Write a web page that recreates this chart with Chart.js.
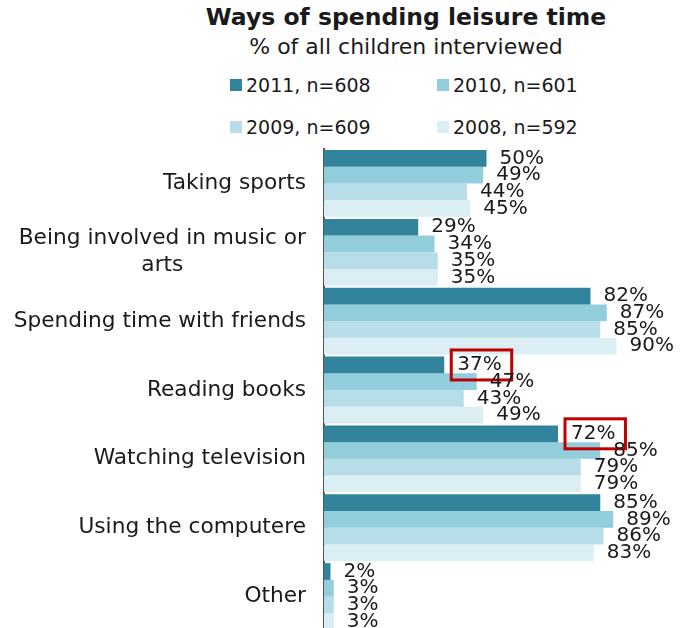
<!DOCTYPE html>
<html lang="en">
<head>
<meta charset="UTF-8">
<title>Ways of spending leisure time</title>
<script src="https://cdn.jsdelivr.net/npm/chart.js"></script>
<style>
  html, body { margin: 0; padding: 0; overflow: hidden; background: #fff; }
  body { width: 685px; height: 628px; position: relative; font-family: "DejaVu Sans", Verdana, sans-serif; color: #1a1a1a; }
  .title { position: absolute; left: 0; width: 812px; top: 3px; text-align: center; font-weight: bold; font-size: 23.5px; line-height: 28px; }
  .subtitle { position: absolute; left: 0; width: 812px; top: 33px; text-align: center; font-size: 22px; line-height: 28px; }
  .legend-item { position: absolute; font-size: 19px; line-height: 24px; white-space: nowrap; }
  .legend-item span { display: inline-block; width: 12px; height: 12px; margin-right: 4px; vertical-align: 1px; }
  .chart_area { position: absolute; left: 0; top: 0; width: 685px; height: 640px; }
</style>
</head>
<body>
<div class="title">Ways of spending leisure time</div>
<div class="subtitle">% of all children interviewed</div>
<div id="legend"></div>
<div class="chart_area">
  <canvas id="leisureChart"></canvas>
</div>

<script>
// data
const categories = [
  'Taking sports',
  ['Being involved in music or', 'arts'],
  'Spending time with friends',
  'Reading books',
  'Watching television',
  'Using the computere',
  'Other'
];
const seriesNames = ['2011, n=608', '2010, n=601', '2009, n=609', '2008, n=592'];
const values2011 = [50, 29, 82, 37, 72, 85, 2];
const values2010 = [49, 34, 87, 47, 85, 89, 3];
const values2009 = [44, 35, 85, 43, 79, 86, 3];
const values2008 = [45, 35, 90, 49, 79, 83, 3];
const highlighted2011 = [3, 4]; // labels with a red box

const colors = ['#31849B', '#92CDDC', '#B7DEE8', '#DAEEF3'];
const catFont = '21.7px "DejaVu Sans", Verdana, sans-serif';
const valueFont = '20px "DejaVu Sans", Verdana, sans-serif';

// legend (2 x 2)
const legendPos = [[230, 73], [437, 73], [230, 115], [437, 115]];
const legendEl = document.getElementById('legend');
seriesNames.forEach((name, i) => {
  const d = document.createElement('div');
  d.className = 'legend-item';
  d.style.left = legendPos[i][0] + 'px';
  d.style.top = legendPos[i][1] + 'px';
  d.innerHTML = '<span style="background:' + colors[i] + '"></span>' + name;
  legendEl.appendChild(d);
});

// category labels, each line centred on the widest line, block right aligned
const categoryLabels = {
  id: 'categoryLabels',
  afterDraw(chart) {
    const ctx = chart.ctx;
    const y = chart.scales.y;
    const right = 306;
    ctx.save();
    ctx.font = catFont;
    ctx.fillStyle = '#1a1a1a';
    ctx.textAlign = 'center';
    ctx.textBaseline = 'middle';
    categories.forEach((lab, i) => {
      const lines = Array.isArray(lab) ? lab : [lab];
      const widest = Math.max(...lines.map(l => ctx.measureText(l).width));
      const cx = right - widest / 2;
      const cy = y.getPixelForTick(i);
      const lh = 27;
      lines.forEach((l, j) => {
        ctx.fillText(l, cx, cy + (j - (lines.length - 1) / 2) * lh);
      });
    });
    ctx.restore();
  }
};

// value labels next to the bars
const valueLabels = {
  id: 'valueLabels',
  afterDatasetsDraw(chart) {
    const ctx = chart.ctx;
    ctx.save();
    ctx.font = valueFont;
    ctx.fillStyle = '#1a1a1a';
    ctx.textAlign = 'left';
    ctx.textBaseline = 'middle';
    chart.data.datasets.forEach((ds, di) => {
      const meta = chart.getDatasetMeta(di);
      meta.data.forEach((bar, i) => {
        const txt = ds.data[i] + '%';
        const x = bar.x + 13;
        ctx.fillText(txt, x, bar.y);
        if (di === 0 && highlighted2011.includes(i)) {
          const w = ctx.measureText(txt).width;
          ctx.strokeStyle = '#C00000';
          ctx.lineWidth = 3;
          ctx.strokeRect(x - 6, bar.y - 15, w + 16, 30);
        }
      });
    });
    ctx.restore();
  }
};

const ctx = document.getElementById('leisureChart').getContext('2d');
new Chart(ctx, {
  type: 'bar',
  data: {
    labels: categories,
    datasets: [values2011, values2010, values2009, values2008].map((vals, i) => ({
      label: seriesNames[i],
      data: vals,
      backgroundColor: colors[i],
      borderWidth: 0,
      barPercentage: 1.0,
      categoryPercentage: 0.97
    }))
  },
  options: {
    indexAxis: 'y',
    responsive: true,
    maintainAspectRatio: false,
    animation: false,
    layout: { padding: { left: 324, right: 36, top: 149, bottom: 9 } },
    scales: {
      x: {
        min: 0,
        max: 100,
        display: false
      },
      y: {
        grid: { display: false, drawTicks: false },
        border: { display: true, color: '#555', width: 2 },
        ticks: { display: false }
      }
    },
    plugins: {
      legend: { display: false },
      tooltip: { enabled: false }
    }
  },
  plugins: [categoryLabels, valueLabels]
});
</script>
</body>
</html>
